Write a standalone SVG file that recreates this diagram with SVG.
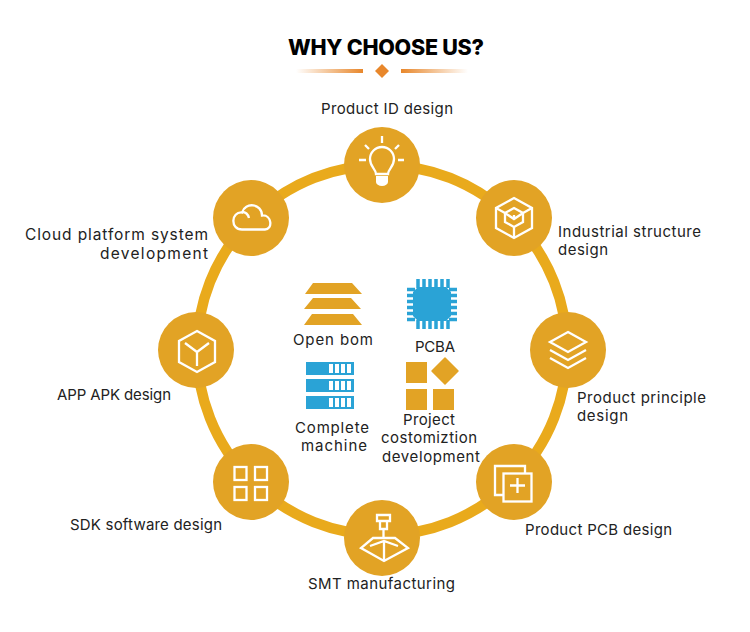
<svg xmlns="http://www.w3.org/2000/svg" width="750" height="632" viewBox="0 0 750 632">
<style>
text{font-family:"Inter","Liberation Sans",sans-serif;font-size:15px;fill:#222}
.n{fill:#E2A325}
.i{fill:none;stroke:#fff;stroke-width:2.300;stroke-linejoin:miter}
.y{fill:#E2A325}
.b{fill:#2AA3D6}
</style>
<defs>
<linearGradient id="gl"><stop offset="0" stop-color="#E8872B" stop-opacity="0"/><stop offset="1" stop-color="#E8872B"/></linearGradient>
<linearGradient id="gr"><stop offset="0" stop-color="#E8872B"/><stop offset="1" stop-color="#E8872B" stop-opacity="0"/></linearGradient>
</defs>
<rect width="750" height="632" fill="#fff"/>
<g id="title">
<text x="288" y="54.500" textLength="196" style="font-size:21.500px;font-weight:800;fill:#000">WHY CHOOSE US?</text>
<rect x="296" y="69" width="67" height="4" fill="url(#gl)"/>
<rect x="401" y="69" width="67" height="4" fill="url(#gr)"/>
<path d="M382 64l7 7-7 7-7-7z" fill="#E8872B"/>
</g>
<g id="connectors">
<circle cx="382" cy="350" r="185" fill="none" stroke="#E9AA1C" stroke-width="10.500"/>
</g>
<g id="node-id">
<circle class="n" cx="382" cy="165" r="38"/>
<path class="i" d="M376 174c0-5-6-7-6-15a12 12 0 0 1 24 0c0 8-6 10-6 15z"/>
<path d="M376 176h12v6a6 4 0 0 1-12 0z" fill="#fff"/>
<path class="i" d="M382 136v7M365 145l4 4M399 145l-4 4M359 160h7M398 160h6"/>
<text x="321" y="114" textLength="132">Product ID design</text>
</g>
<g id="node-industrial">
<circle class="n" cx="514" cy="218" r="38"/>
<path class="i" d="M514 198l18 10v20l-18 10-18-10v-20z"/>
<path class="i" d="M496 208l9 5M532 208l-9 5M514 238v-11"/>
<path class="i" d="M514 208l9 5v9l-9 5-9-5v-9zM505 213l9 6 9-6M514 219v-4"/>
<text x="558" y="236.800" textLength="143">Industrial structure</text>
<text x="558" y="255.200" textLength="50">design</text>
</g>
<g id="node-principle">
<circle class="n" cx="568" cy="350" r="38"/>
<path class="i" d="M568 332l18 10-18 10-18-10z"/>
<path class="i" d="M550 350l18 10 18-10M550 358l18 10 18-10"/>
<text x="577" y="402.800" textLength="129">Product principle</text>
<text x="577" y="421.200" textLength="51">design</text>
</g>
<g id="node-pcb">
<circle class="n" cx="514" cy="482" r="38"/>
<path class="i" d="M525 473v-7h-30v29h8"/>
<rect class="i" x="503.500" y="473.500" width="28" height="28"/>
<path class="i" d="M517.500 478v15M510 485.500h15"/>
<text x="525" y="535" textLength="147">Product PCB design</text>
</g>
<g id="node-smt">
<circle class="n" cx="382" cy="538" r="38"/>
<path class="i" d="M377 515h13v6h-13zM380 521h7v8h-7zM383.500 529v8"/>
<path class="i" d="M373 538h22l13 10-24 13-23-13zM370 546l14-5 14 5M384 541v20"/>
<text x="308" y="589" textLength="147">SMT manufacturing</text>
</g>
<g id="node-sdk">
<circle class="n" cx="251" cy="482" r="38"/>
<rect class="i" x="234.500" y="467" width="12" height="13"/>
<rect class="i" x="255" y="467" width="12" height="13"/>
<rect class="i" x="234.500" y="487" width="12" height="13"/>
<rect class="i" x="255" y="487" width="12" height="13"/>
<text x="70" y="530" textLength="152">SDK software design</text>
</g>
<g id="node-app">
<circle class="n" cx="196" cy="350" r="38"/>
<path class="i" d="M197 331l18 10v21l-18 10-18-10v-21z"/>
<path class="i" d="M185 343l12 9 12-9M197 352v14"/>
<text x="57" y="400" textLength="114">APP APK design</text>
</g>
<g id="node-cloud">
<circle class="n" cx="251" cy="218" r="38"/>
<path class="i" d="M242 229.500h23c8 0 7-15-3-14 0-12-17-14-20-3-11-1-12 17 0 17z"/>
<path class="i" d="M242 212c4 0 6 2 7 6"/>
<text x="25" y="239.500" textLength="183" style="font-size:15.500px">Cloud platform system</text>
<text x="100" y="258.500" textLength="108" style="font-size:15.500px">development</text>
</g>
<g id="item-bom">
<path class="y" d="M313 283h39l10 11h-57zM313 298h38l10 11h-57zM312 314h41l9 11h-58z"/>
<text x="293" y="345" textLength="80">Open bom</text>
</g>
<g id="item-pcba">
<path class="b" d="M418 287h28l5 5v24l-5 5h-28l-5-5v-24z"/>
<path d="M418 279v9M424 279v9M430 279v9M436 279v9M442 279v9M448 279v9M418 320v9M424 320v9M430 320v9M436 320v9M442 320v9M448 320v9M407 289.500h8M407 295.500h8M407 301.500h8M407 307.500h8M407 313.500h8M407 319.500h8M449 289.500h8M449 295.500h8M449 301.500h8M449 307.500h8M449 313.500h8M449 319.500h8" stroke="#2AA3D6" stroke-width="3.500" fill="none"/>
<text x="415" y="352" textLength="40">PCBA</text>
</g>
<g id="item-machine">
<rect class="b" x="306" y="362" width="48" height="13"/>
<rect class="b" x="306" y="379" width="48" height="13"/>
<rect class="b" x="306" y="396" width="48" height="13"/>
<path d="M329 364h4v9h-4zM335 364h4v9h-4zM341 364h4v9h-4zM347 364h4v9h-4zM329 381h4v9h-4zM335 381h4v9h-4zM341 381h4v9h-4zM347 381h4v9h-4zM329 398h4v9h-4zM335 398h4v9h-4zM341 398h4v9h-4zM347 398h4v9h-4z" fill="#fff"/>
<text x="295" y="432.800" textLength="74">Complete</text>
<text x="301" y="451.200" textLength="66">machine</text>
</g>
<g id="item-project">
<rect class="y" x="406" y="362" width="21" height="21"/>
<rect class="y" x="406" y="389" width="21" height="21"/>
<rect class="y" x="433" y="389" width="21" height="21"/>
<path class="y" d="M445 358l13 13-13 13-13-13z" stroke="#E2A325" stroke-width="1.500" stroke-linejoin="round"/>
<text x="403" y="425" textLength="52">Project</text>
<text x="381" y="443.400" textLength="96">costomiztion</text>
<text x="382" y="461.800" textLength="98">development</text>
</g>
</svg>
